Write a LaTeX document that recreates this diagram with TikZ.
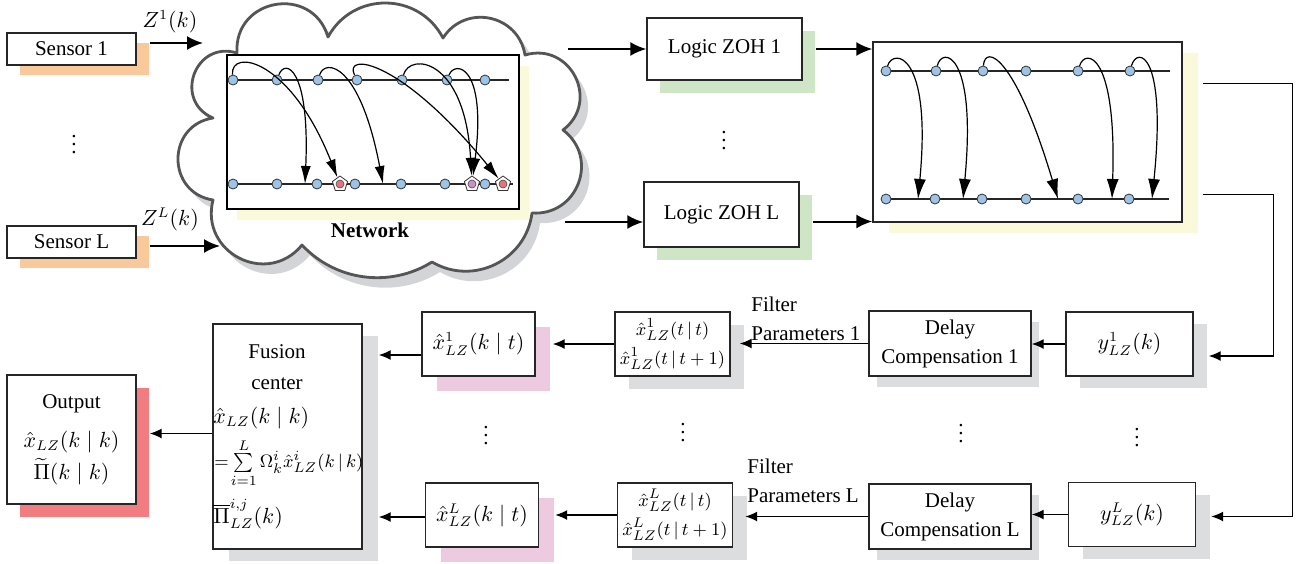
\documentclass[tikz,border=0pt]{standalone}
\usepackage{fontspec}
\setmainfont{Liberation Serif}
\usepackage{amsmath}
\usepackage{amssymb}
\usetikzlibrary{arrows.meta,calc,positioning,shadows,shapes.geometric}

\definecolor{sensshade}{HTML}{F9C89B}
\definecolor{zohshade}{HTML}{CFE6C6}
\definecolor{lineshade}{HTML}{FAFADA}
\definecolor{boxshade}{HTML}{DCDDDF}
\definecolor{estshade}{HTML}{EECAE1}
\definecolor{outshade}{HTML}{F27D80}
\definecolor{cloudline}{HTML}{555555}
\definecolor{cloudshade}{HTML}{D3D4D7}
\definecolor{dotblue}{HTML}{9DC3E6}
\definecolor{pktred}{HTML}{E8727B}
\definecolor{pktpink}{HTML}{D38EC6}

\begin{document}
\begin{tikzpicture}[x=0.5pt, y=-0.5pt,
  every node/.style={font=\fontsize{10.5}{14.5}\selectfont},
  lbl/.style={align=center, inner sep=1pt},
  box/.style={draw=black!85, line width=0.7pt, fill=white, align=center, inner sep=1pt},
  sensbox/.style={box, minimum width=64.5pt, minimum height=16pt,
    drop shadow={shadow xshift=6.5pt, shadow yshift=-5pt, fill=sensshade, opacity=1}},
  zohbox/.style={box, minimum width=77.5pt, minimum height=31pt,
    drop shadow={shadow xshift=6.5pt, shadow yshift=-6.5pt, fill=zohshade, opacity=1}},
  ybox/.style={box, minimum width=63.5pt, minimum height=32pt,
    drop shadow={shadow xshift=7pt, shadow yshift=-6pt, fill=boxshade, opacity=1}},
  dcbox/.style={box, minimum width=81pt, minimum height=32.5pt,
    drop shadow={shadow xshift=4pt, shadow yshift=-5.5pt, fill=boxshade, opacity=1}},
  filtbox/.style={box, minimum width=57.5pt, minimum height=32pt, font=\fontsize{9.5}{14.5}\selectfont,
    drop shadow={shadow xshift=7pt, shadow yshift=-6.5pt, fill=boxshade, opacity=1}},
  estbox/.style={box, minimum width=56.5pt, minimum height=32pt,
    drop shadow={shadow xshift=7.5pt, shadow yshift=-7.5pt, fill=estshade, opacity=1}},
  fusbox/.style={box, minimum width=74.5pt, minimum height=112.5pt,
    drop shadow={shadow xshift=8pt, shadow yshift=-6pt, fill=boxshade, opacity=1}},
  outbox/.style={box, minimum width=64.5pt, minimum height=64.5pt,
    drop shadow={shadow xshift=6.5pt, shadow yshift=-6.5pt, fill=outshade, opacity=1}},
  dot/.style={circle, draw=black!80, line width=0.4pt, fill=dotblue, inner sep=0pt, minimum size=5pt},
  pkt/.style={regular polygon, regular polygon sides=5, draw=black!80, line width=0.4pt, fill=white, inner sep=0pt, minimum size=8pt},
  tline/.style={line width=1.4pt, black!85},
  hop/.style={line width=0.6pt, -{Latex[length=9pt,width=5pt]}},
  feed/.style={line width=1pt, -{Latex[length=8pt,width=7pt]}},
  conn/.style={line width=0.7pt, -{Latex[length=6pt,width=5pt]}}]

\useasboundingbox (0,0) rectangle (1304,563);

\node [sensbox] (sens1) at (71.5,49) {Sensor 1};
\node [sensbox] (sensL) at (71.5,242) {Sensor L};
\node [lbl] (vd1) at (74,139) {$\vdots$};
\node [lbl] (zlab1) at (170,22) {$Z^1(k)$};
\node [lbl] (zlabL) at (170,219) {$Z^L(k)$};

\draw [draw=cloudline, line width=1.4pt, line join=round, fill=white,
  drop shadow={shadow xshift=4pt, shadow yshift=-5pt, fill=cloudshade, opacity=1}]
  (237,53) .. controls (233.6,-2.1) and (312.4,-15.9) .. (328,37)
  .. controls (352.9,-8.8) and (418.9,-8.2) .. (443,38)
  .. controls (465.1,3.3) and (518.5,14.3) .. (525,55)
  .. controls (570.4,41.5) and (600.8,101.3) .. (563,130)
  .. controls (599.7,157.7) and (577.9,216.1) .. (532,213)
  .. controls (526,260.4) and (473.2,286.2) .. (432,262)
  .. controls (390.1,288.1) and (335.7,281.1) .. (302,245)
  .. controls (267.4,287.2) and (199.6,253) .. (213,200)
  .. controls (166.3,192.7) and (166.3,125.3) .. (213,118)
  .. controls (172.7,100.6) and (195.1,40) .. (237,53) -- cycle;
\node [draw, line width=0.7pt, fill=white, minimum width=146pt, minimum height=77pt,
  drop shadow={shadow xshift=5pt, shadow yshift=-5.5pt, fill=lineshade, opacity=1}] (netbox) at (373,132) {};
\node [lbl, font=\fontsize{10.5}{14.5}\selectfont\bfseries] (netlbl) at (370,230) {Network};

\draw [tline] (233,80) -- (509,80);
\draw [tline] (233,184) -- (513,184);

\node [dot] (na1) at (233,80) {};
\node [dot] (na2) at (277,80) {};
\node [dot] (na3) at (318,80) {};
\node [dot] (na4) at (357,80) {};
\node [dot] (na5) at (402,80) {};
\node [dot] (na6) at (447,80) {};
\node [dot] (na7) at (485,80) {};

\node [dot] (nb1) at (233,184) {};
\node [dot] (nb2) at (277,184) {};
\node [dot] (nb3) at (317,184) {};
\node [dot] (nb4) at (355,184) {};
\node [dot] (nb5) at (401,184) {};
\node [dot] (nb6) at (445,184) {};
\node [dot] (nb7) at (485,184) {};

\node [pkt] (pk1) at (340,184) {};
\node [pkt] (pk2) at (472,184) {};
\node [pkt] (pk3) at (503,184) {};
\draw [fill=pktred, draw=black!70, line width=0.3pt] (pk1.center) circle [radius=2pt];
\draw [fill=pktpink, draw=black!70, line width=0.3pt] (pk2.center) circle [radius=2pt];
\draw [fill=pktred, draw=black!70, line width=0.3pt] (pk3.center) circle [radius=2pt];

\coordinate (hit1) at (305,184);
\coordinate (hit2) at (383,184);

\draw [hop] (na1) .. controls (230,48) and (290,58) .. (pk1);
\draw [hop] (na2) .. controls (285,58) and (310,68) .. (hit1);
\draw [hop] (na3) .. controls (325,58) and (360,63) .. (hit2);
\draw [hop] (na4) .. controls (343,52) and (400,58) .. (pk3);
\draw [hop] (na5) .. controls (410,52) and (465,58) .. (pk2);
\draw [hop] (na6) .. controls (455,60) and (487,65) .. (pk2);

\coordinate (netin1) at (203,43);
\coordinate (netinL) at (220,246);
\coordinate (netout1) at (568,49);
\coordinate (netoutL) at (565,222);

\draw [feed, shorten <=6.5pt] ([yshift=3pt]sens1.east) -- (netin1);
\draw [feed, shorten <=6.5pt] ([yshift=-2pt]sensL.east) -- (netinL);

\node [zohbox] (zoh1) at (724.5,49) {Logic ZOH 1};
\node [zohbox, minimum height=32.5pt] (zohL) at (721.5,214.5) {Logic ZOH L};
\node [lbl] (vd2) at (724,135) {$\vdots$};

\draw [feed] (netout1) -- (zoh1.west);
\draw [feed] (netoutL) -- (netoutL -| zohL.west);

\node [box, minimum width=154.5pt, minimum height=90pt,
  drop shadow={shadow xshift=8pt, shadow yshift=-5.5pt, fill=lineshade, opacity=1}] (rbox) at (1027.5,132) {};

\draw [tline] (886,71) -- (1170,71);
\draw [tline] (886,199) -- (1169,199);

\node [dot] (nc1) at (886,71) {};
\node [dot] (nc2) at (936,71) {};
\node [dot] (nc3) at (983,71) {};
\node [dot] (nc4) at (1026,71) {};
\node [dot] (nc5) at (1078,71) {};
\node [dot] (nc6) at (1130,71) {};

\node [dot] (nd1) at (886,199) {};
\node [dot] (nd2) at (935,199) {};
\node [dot] (nd3) at (982,199) {};
\node [dot] (nd4) at (1026,199) {};
\node [dot] (nd5) at (1078,199) {};
\node [dot] (nd6) at (1129,199) {};

\coordinate (hit3) at (918,199);
\coordinate (hit4) at (963,199);
\coordinate (hit5) at (1058,199);
\coordinate (hit6) at (1112,199);
\coordinate (hit7) at (1152,199);

\draw [hop, -{Latex[length=10pt,width=6pt]}] (nc1) .. controls (893,48) and (932,52) .. (hit3);
\draw [hop, -{Latex[length=10pt,width=6pt]}] (nc2) .. controls (942,46) and (977,52) .. (hit4);
\draw [hop, -{Latex[length=10pt,width=6pt]}] (nc3) .. controls (985,44) and (1015,55) .. (hit5);
\draw [hop, -{Latex[length=10pt,width=6pt]}] (nc5) .. controls (1085,48) and (1117,52) .. (hit6);
\draw [hop, -{Latex[length=10pt,width=6pt]}] (nc6) .. controls (1137,46) and (1167,52) .. (hit7);

\draw [feed, shorten <=6.5pt] (zoh1.east) -- (zoh1.east -| rbox.west);
\draw [feed, shorten <=6.5pt] ([yshift=-3.5pt]zohL.east) -- ([yshift=-3.5pt]zohL.east -| rbox.west);

\node [ybox] (y1) at (1129.5,344) {$y^1_{LZ}(k)$};
\node [ybox] (yL) at (1132,514.5) {$y^L_{LZ}(k)$};
\node [lbl] (vd3) at (1137,432) {$\vdots$};

\draw [conn] ([shift={(10pt,14pt)}]rbox.south east) -- ++(71,0) |- ([shift={(7.5pt,-6pt)}]y1.east);
\draw [conn] ([shift={(10pt,-21pt)}]rbox.north east) -- ++(90,0) |- ([shift={(7.5pt,-1pt)}]yL.east);

\node [dcbox] (dc1) at (950,343.5) {Delay\\Compensation 1};
\node [dcbox] (dcL) at (950,516.5) {Delay\\Compensation L};
\node [lbl] (vd4) at (961,428) {$\vdots$};

\draw [conn] (y1.west) -- (y1.west -| dc1.east);
\draw [conn] (yL.west) -- (yL.west -| dcL.east);

\node [filtbox] (filt1) at (672.5,344) {$\hat{x}^1_{LZ}(t\,|\,t)$\\$\hat{x}^1_{LZ}(t\,|\,t+1)$};
\node [filtbox] (filtL) at (675,515) {$\hat{x}^L_{LZ}(t\,|\,t)$\\$\hat{x}^L_{LZ}(t\,|\,t+1)$};
\node [lbl] (vd5) at (683,427) {$\vdots$};
\node [lbl, align=left, anchor=west] (fpar1) at (749,319) {Filter\\Parameters 1};
\node [lbl, align=left, anchor=west] (fparL) at (745,481) {Filter\\Parameters L};

\draw [conn] (dc1.west) -- ($(dc1.west -| filt1.east)+(9,0)$);
\draw [conn] (dcL.west) -- ($(dcL.west -| filtL.east)+(12,0)$);

\node [estbox] (est1) at (478.5,344) {$\hat{x}^1_{LZ}(k\mid t)$};
\node [estbox] (estL) at (482,515) {$\hat{x}^L_{LZ}(k\mid t)$};
\node [lbl] (vd6) at (486,430) {$\vdots$};

\draw [conn] (filt1.west) -- ($(filt1.west -| est1.east)+(17,0)$);
\draw [conn] (filtL.west) -- ($(filtL.west -| estL.east)+(16,0)$);

\node [fusbox] (fus) at (287.5,436.5) {};
\node [lbl] (fustitle) at (277,367) {Fusion\\[1pt]center};
\node [lbl, anchor=west] (fusx) at (211,418) {$\hat{x}_{LZ}(k\mid k)$};
\node [lbl, anchor=west, font=\fontsize{9.5}{12}\selectfont] (fussum) at (212,463) {$=\!\sum\limits_{i=1}^{L}\Omega_k^i\hat{x}^i_{LZ}(k\,|\,k)$};
\node [lbl, anchor=west] (fuspi) at (211,514) {$\overline{\Pi}^{i,j}_{LZ}(k)$};

\draw [conn] ($(est1.west)+(0,11)$) -- ($(est1.west -| fus.east)+(16,11)$);
\draw [conn] ($(estL.west)+(0,2)$) -- ($(estL.west -| fus.east)+(16,2)$);

\node [outbox] (out) at (71.5,439.5) {Output\\[5pt]$\hat{x}_{LZ}(k\mid k)$\\[1.5pt]$\widetilde{\Pi}(k\mid k)$};

\draw [conn] ($(fus.west)+(0,-3)$) -- ($(fus.west -| out.east)+(13,-3)$);
\end{tikzpicture}
\end{document}
